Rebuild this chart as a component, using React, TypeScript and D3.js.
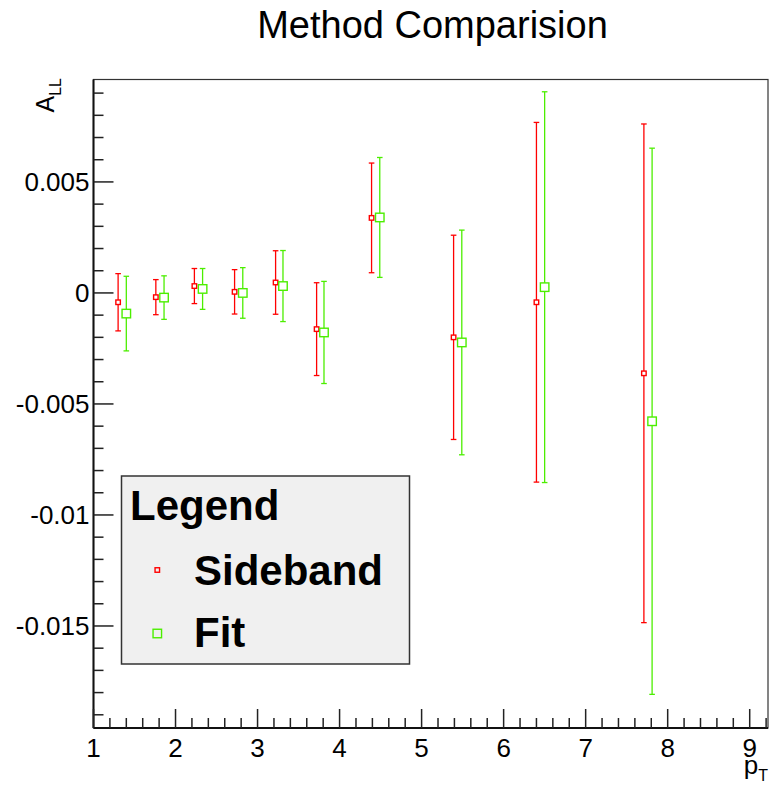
import React from "react";
import * as d3 from "d3";

const sidebandX = [1.30, 1.76, 2.23, 2.72, 3.22, 3.72, 4.39, 5.39, 6.40, 7.71];
const sidebandY = [-0.00042, -0.00019, 0.00031, 0.00005, 0.00047, -0.00163, 0.00338, -0.00200, -0.00042, -0.00362];
const sidebandErr = [0.00129, 0.00079, 0.00079, 0.00100, 0.00143, 0.00209, 0.00247, 0.00460, 0.00810, 0.01123];

const fitX = [1.40, 1.86, 2.33, 2.82, 3.31, 3.81, 4.49, 5.49, 6.50, 7.81];
const fitY = [-0.00093, -0.00021, 0.00018, 0.00000, 0.00031, -0.00178, 0.00340, -0.00223, 0.00026, -0.00578];
const fitErr = [0.00168, 0.00098, 0.00092, 0.00114, 0.00160, 0.00230, 0.00270, 0.00506, 0.00880, 0.01230];

const xTickLabels = ["1", "2", "3", "4", "5", "6", "7", "8", "9"];
const yTickValues = [0.005, 0, -0.005, -0.01, -0.015];
const yTickLabels = ["0.005", "0", "-0.005", "-0.01", "-0.015"];

const X_DOMAIN = [1, 9.223];
const Y_DOMAIN = [-0.019595, 0.009613];

const FONT = "'Liberation Sans', Arial, Helvetica, sans-serif";
const RED = "#ff0000";
const GREEN = "#4cee00";

function Series({ xs, ys, es, color, size, x, y }: any) {
  const half = size / 2;
  const cap = 2.8;
  return (
    <g>
      {xs.map((xv: number, i: number) => {
        const cx = x(xv);
        const cy = y(ys[i]);
        const top = y(ys[i] + es[i]);
        const bot = y(ys[i] - es[i]);
        return (
          <g key={i}>
            <line x1={cx} x2={cx} y1={top} y2={cy - half} stroke={color} strokeWidth={1.3} />
            <line x1={cx} x2={cx} y1={cy + half} y2={bot} stroke={color} strokeWidth={1.3} />
            <line x1={cx - cap} x2={cx + cap} y1={top} y2={top} stroke={color} strokeWidth={1.3} />
            <line x1={cx - cap} x2={cx + cap} y1={bot} y2={bot} stroke={color} strokeWidth={1.3} />
            <rect x={cx - half} y={cy - half} width={size} height={size} fill="none" stroke={color} strokeWidth={1.4} />
          </g>
        );
      })}
    </g>
  );
}

export default function App() {
  const x = d3.scaleLinear().domain(X_DOMAIN).range([93.5, 768]);
  const y = d3.scaleLinear().domain(Y_DOMAIN).range([728, 79.5]);

  const xMinor = d3.range(1, 9.23, 0.2).map((v) => Math.round(v * 10) / 10);
  const yMinor = d3.range(-19, 10, 1).map((v) => v / 1000);

  return (
    <svg width={770} height={793} style={{ position: "absolute", left: 0, top: 0, background: "#fff" }}>
      <rect x={0} y={0} width={770} height={793} fill="#fff" />
      <text x={432.5} y={37.5} textAnchor="middle" fontFamily={FONT} fontSize={38} fill="#000">
        Method Comparision
      </text>

      {/* frame */}
      <rect x={93.5} y={79.5} width={768 - 93.5} height={728 - 79.5} fill="none" stroke="#333" strokeWidth={1.2} />
      <line x1={93.5} x2={93.5} y1={79.5} y2={728} stroke="#111" strokeWidth={2} />
      <line x1={93.5} x2={768} y1={728} y2={728} stroke="#111" strokeWidth={2} />

      {/* y ticks */}
      {yMinor.map((v, i) => {
        const major = Math.abs(Math.round(v * 1000)) % 5 === 0;
        return (
          <line key={"yt" + i} x1={93.5} x2={93.5 + (major ? 20 : 10)} y1={y(v)} y2={y(v)} stroke="#222" strokeWidth={1.5} />
        );
      })}
      {yTickValues.map((v, i) => (
        <text key={"yl" + i} x={89.5} y={y(v) + 9.5} textAnchor="end" fontFamily={FONT} fontSize={26} fill="#000">
          {yTickLabels[i]}
        </text>
      ))}

      {/* x ticks */}
      {xMinor.map((v, i) => {
        const major = Math.abs(v - Math.round(v)) < 1e-6;
        return (
          <line key={"xt" + i} x1={x(v)} x2={x(v)} y1={728} y2={728 - (major ? 19 : 10)} stroke="#222" strokeWidth={1.5} />
        );
      })}
      {xTickLabels.map((t, i) => (
        <text key={"xl" + i} x={x(+t)} y={756.5} textAnchor="middle" fontFamily={FONT} fontSize={26} fill="#000">
          {t}
        </text>
      ))}

      {/* axis titles */}
      <text transform="translate(54,78) rotate(-90)" textAnchor="end" fontFamily={FONT} fontSize={25} fill="#000">
        A<tspan fontSize={16} dy={7}>LL</tspan>
      </text>
      <text x={768} y={774} textAnchor="end" fontFamily={FONT} fontSize={26} fill="#000">
        p<tspan fontSize={16} dy={7}>T</tspan>
      </text>

      <Series xs={sidebandX} ys={sidebandY} es={sidebandErr} color={RED} size={4.5} x={x} y={y} />
      <Series xs={fitX} ys={fitY} es={fitErr} color={GREEN} size={8.5} x={x} y={y} />

      {/* legend */}
      <rect x={121.5} y={476} width={288} height={188} fill="#f0f0f0" stroke="#333" strokeWidth={1.5} />
      <text x={130} y={520} fontFamily={FONT} fontWeight="bold" fontSize={42} fill="#000">
        Legend
      </text>
      <rect x={157.3 - 2.25} y={570 - 2.25} width={4.5} height={4.5} fill="none" stroke={RED} strokeWidth={1.4} />
      <text x={194} y={585} fontFamily={FONT} fontWeight="bold" fontSize={42} fill="#000">
        Sideband
      </text>
      <rect x={157.3 - 4.25} y={633.5 - 4.25} width={8.5} height={8.5} fill="none" stroke={GREEN} strokeWidth={1.4} />
      <text x={194} y={646.5} fontFamily={FONT} fontWeight="bold" fontSize={42} fill="#000">
        Fit
      </text>
    </svg>
  );
}
